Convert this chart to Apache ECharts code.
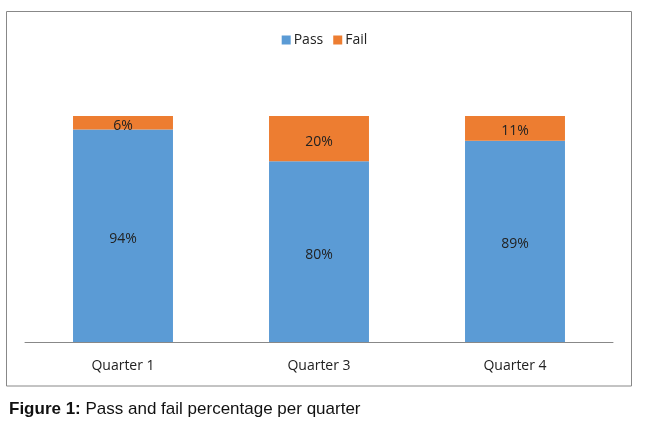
<!DOCTYPE html>
<html><head><meta charset="utf-8">
<script src="https://cdn.jsdelivr.net/npm/echarts@6/dist/echarts.min.js"></script>
<style>html,body{margin:0;padding:0;background:#fff}#c{width:649px;height:434px}</style>
</head><body><div id="c"></div>
<script>
const categories = ['Quarter 1', 'Quarter 3', 'Quarter 4'];
const passValues = [94, 80, 89];
const failValues = [6, 20, 11];
const seriesNames = ['Pass', 'Fail'];

const chart = echarts.init(document.getElementById('c'), null, {renderer: 'canvas'});
const font = '"Open Sans", "Noto Sans", sans-serif';
const cap = '"Liberation Sans", Arial, sans-serif';
chart.setOption({
  animation: false,
  textStyle: {fontFamily: font},
  title: {
    left: 4, top: 396,
    text: '{b|Figure 1:} {n|Pass and fail percentage per quarter}',
    textStyle: {
      fontWeight: 'normal', fontFamily: cap, fontSize: 17, color: '#111',
      rich: {
        b: {fontFamily: cap, fontWeight: 'bold', fontSize: 17, color: '#111'},
        n: {fontFamily: cap, fontWeight: 'normal', fontSize: 17, color: '#111'}
      }
    }
  },
  legend: {
    top: 28, left: 'center',
    itemWidth: 9, itemHeight: 9, itemGap: 10,
    icon: 'rect',
    textStyle: {fontFamily: font, fontSize: 14, color: '#222', padding: [0,0,0,-2]},
    data: seriesNames
  },
  grid: {left: 25, right: 36, top: 116, bottom: 92},
  xAxis: {
    type: 'category', data: categories,
    axisLine: {lineStyle: {color: '#888', width: 1}},
    axisTick: {show: false},
    axisLabel: {fontFamily: font, fontSize: 14, color: '#222', margin: 17}
  },
  yAxis: {type: 'value', min: 0, max: 100, show: false, splitLine: {show: false}},
  graphic: [{
    type: 'rect', silent: true,
    shape: {x: 6.5, y: 11.5, width: 625, height: 374.5},
    style: {fill: 'none', stroke: '#888', lineWidth: 1}
  }],
  series: [
    {
      name: seriesNames[0], type: 'bar', stack: 's', data: passValues, barWidth: '51%',
      itemStyle: {color: '#5B9BD5'},
      label: {show: true, position: 'inside', offset: [0, 3], formatter: '{c}%', fontFamily: font, fontSize: 14, color: '#222'}
    },
    {
      name: seriesNames[1], type: 'bar', stack: 's', data: failValues, barWidth: '51%',
      itemStyle: {color: '#ED7D31'},
      label: {show: true, position: 'inside', offset: [0, 3], formatter: '{c}%', fontFamily: font, fontSize: 14, color: '#222'}
    }
  ]
});
</script></body></html>
